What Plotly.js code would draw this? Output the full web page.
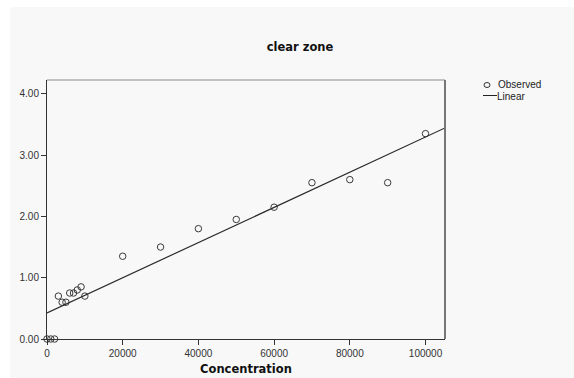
<!DOCTYPE html>
<html>
<head>
<meta charset="utf-8">
<script src="https://cdn.plot.ly/plotly-3.0.1.min.js"></script>
<style>html,body{margin:0;padding:0;background:#fff;}#chart{width:574px;height:378px;}</style>
</head>
<body>
<div id="chart"></div>
<script>
const concentration = [0, 1000, 2000, 3000, 4000, 5000, 6000, 7000, 8000, 9000, 10000,
  20000, 30000, 40000, 50000, 60000, 70000, 80000, 90000, 100000];
const clearZone = [0, 0, 0, 0.70, 0.60, 0.60, 0.75, 0.75, 0.80, 0.85, 0.70,
  1.35, 1.50, 1.80, 1.95, 2.15, 2.55, 2.60, 2.55, 3.35];

// Linear fit
const fitIntercept = 0.425;
const fitSlope = 2.87e-5;
const fitX = [0, 105150];
const fitY = fitX.map(x => fitIntercept + fitSlope * x);

const xTicks = [0, 20000, 40000, 60000, 80000, 100000];
const yTicks = [0, 1, 2, 3, 4];

const W = 574, H = 378;
const L = 47, R = 445, T = 80, B = 339;
const px = x => (x - L) / (R - L);
const py = y => (B - y) / (B - T);

const font = {family: 'Liberation Sans, Arial, sans-serif', color: '#333', size: 10};
const boldFam = 'DejaVu Sans, Liberation Sans, Arial, sans-serif';

const traces = [
  {
    x: concentration, y: clearZone, type: 'scatter', mode: 'markers', name: 'Observed',
    cliponaxis: false,
    marker: {symbol: 'circle-open', size: 6.5, color: '#3a3a3a', line: {width: 1, color: '#3a3a3a'}}
  },
  {
    x: fitX, y: fitY, type: 'scatter', mode: 'lines', name: 'Linear',
    line: {color: '#2a2a2a', width: 1.2}
  }
];

const layout = {
  width: W, height: H,
  margin: {l: L, r: W - R, t: T, b: H - B},
  paper_bgcolor: '#ffffff',
  plot_bgcolor: '#e8e8e8',
  showlegend: false,
  font: font,
  title: {text: 'clear zone', font: {family: boldFam, size: 11.5, color: '#111', weight: 'bold'},
    xref: 'container', x: 300 / W, xanchor: 'center', yref: 'container', y: 1 - 47 / H, yanchor: 'middle'},
  xaxis: {
    range: [0, 105150], tickvals: xTicks, tickformat: 'd',
    showgrid: false, zeroline: false, showline: true, linecolor: '#333', linewidth: 1,
    ticks: 'outside', ticklen: 5, tickcolor: '#333', tickfont: font,
    title: {text: 'Concentration', font: {family: boldFam, size: 11.5, color: '#111', weight: 'bold'}, standoff: 6}
  },
  yaxis: {
    range: [0, 4.225], tickvals: yTicks, tickformat: '.2f',
    showgrid: false, zeroline: false, showline: true, linecolor: '#333', linewidth: 1,
    ticks: 'outside', ticklen: 5, tickcolor: '#333', tickfont: font
  },
  shapes: [
    // panel background
    {type: 'rect', xref: 'paper', yref: 'paper', layer: 'below',
      x0: px(10), x1: px(W + 5), y0: py(7), y1: py(H + 5), fillcolor: '#f8f8f8', line: {width: 0}},
    // top and right frame
    {type: 'line', xref: 'paper', yref: 'paper', x0: 0, x1: 1, y0: 1, y1: 1, line: {color: '#8a8a8a', width: 1.2}},
    {type: 'line', xref: 'paper', yref: 'paper', x0: 1, x1: 1, y0: 0, y1: 1, line: {color: '#777', width: 2}},
    // legend symbols
    {type: 'circle', xref: 'paper', yref: 'paper', x0: px(484), x1: px(490), y0: py(82.5), y1: py(87.5),
      line: {color: '#333', width: 1}},
    {type: 'line', xref: 'paper', yref: 'paper', x0: px(483), x1: px(497), y0: py(95.5), y1: py(95.5),
      line: {color: '#222', width: 1}}
  ],
  annotations: [
    {text: 'Observed', xref: 'paper', yref: 'paper', x: px(496), y: py(85), xanchor: 'left', yanchor: 'middle',
      showarrow: false, font: {family: 'Liberation Sans, Arial, sans-serif', size: 10, color: '#222'}},
    {text: 'Linear', xref: 'paper', yref: 'paper', x: px(495), y: py(96), xanchor: 'left', yanchor: 'middle',
      showarrow: false, font: {family: 'Liberation Sans, Arial, sans-serif', size: 10, color: '#222'}}
  ]
};

Plotly.newPlot('chart', traces, layout, {displayModeBar: false, staticPlot: true});
</script>
</body>
</html>
